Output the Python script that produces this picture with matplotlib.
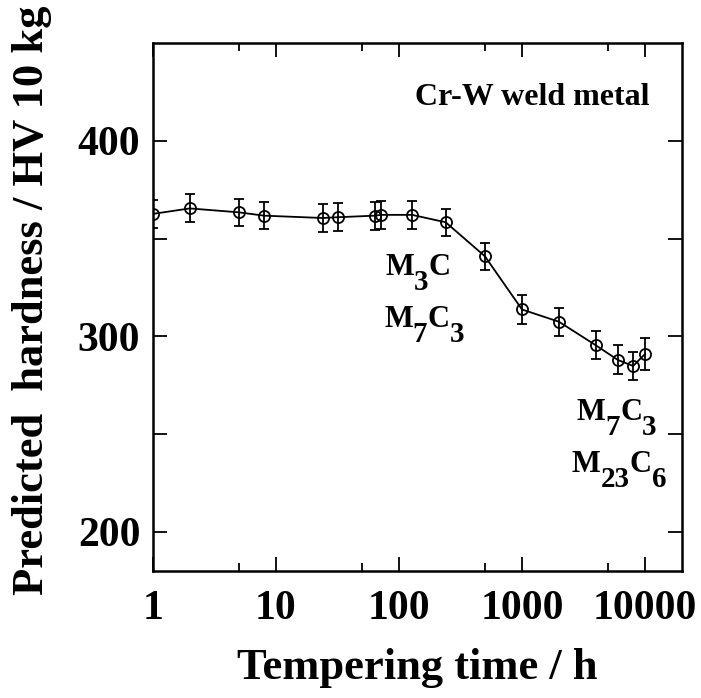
import matplotlib.pyplot as plt
from matplotlib.ticker import FixedLocator, NullFormatter, FixedFormatter

# tempering time (h) and predicted hardness (HV 10 kg) with error bars
time_h = [1, 2, 5, 8, 24, 32, 64, 72, 128, 240, 500, 1000, 2000, 4000, 6000, 8000, 10000]
hardness = [362.7, 365.5, 363.5, 361.8, 360.6, 361.0, 361.8, 362.2, 362.2, 358.4,
            341.0, 313.8, 307.5, 295.4, 288.0, 284.9, 291.0]
err = [7.0, 7.2, 6.8, 7.0, 7.2, 7.2, 7.2, 7.2, 7.0, 6.8, 7.0, 7.4, 7.2, 7.2, 7.4, 7.2, 8.2]

x_major = [1, 10, 100, 1000, 10000]
x_minor = [5, 50, 500, 5000]
y_major = [200, 250, 300, 350, 400]
y_labels = ["200", "", "300", "", "400"]

plt.rcParams['font.family'] = ['Liberation Serif', 'DejaVu Serif']
plt.rcParams['font.weight'] = 'bold'

fig = plt.figure(figsize=(7.01, 6.98), dpi=100)
ax = fig.add_axes([0.218, 0.182, 0.755, 0.756])

ax.errorbar(time_h, hardness, yerr=err, color='black', lw=1.3, marker='o',
            markersize=8, markerfacecolor='none', markeredgewidth=1.3,
            capsize=3.8, capthick=1.3, elinewidth=1.3)

ax.set_xscale('log')
ax.set_xlim(1, 20000)
ax.set_ylim(180, 450)

ax.xaxis.set_major_locator(FixedLocator(x_major))
ax.xaxis.set_major_formatter(FixedFormatter([str(v) for v in x_major]))
ax.xaxis.set_minor_locator(FixedLocator(x_minor))
ax.xaxis.set_minor_formatter(NullFormatter())
ax.yaxis.set_major_locator(FixedLocator(y_major))
ax.yaxis.set_major_formatter(FixedFormatter(y_labels))

ax.tick_params(which='both', direction='in', top=True, right=True, width=1.3)
ax.tick_params(which='major', length=10, labelsize=30)
ax.tick_params(which='minor', length=6)
ax.tick_params(axis='x', which='major', pad=14)
ax.tick_params(axis='y', which='major', pad=9)
for s in ax.spines.values():
    s.set_linewidth(1.8)

ax.set_xlabel('Tempering time / h', fontsize=32, fontweight='bold', labelpad=14)
ax.set_ylabel('Predicted  hardness / HV 10 kg', fontsize=32, fontweight='bold')
ax.yaxis.set_label_coords(-0.19, 0.513)

ax.annotate('Cr-W weld metal', xy=(0.4955, 0.8826), xycoords='axes fraction',
            ha='left', va='baseline', fontsize=23, fontweight='bold')

renderer = fig.canvas.get_renderer()


def chem_label(x, y, parts, size=22):
    # parts: (text, subscript?) pieces laid out left to right
    dx = 0.0
    for s, sub in parts:
        t = ax.annotate(s, xy=(x, y), xycoords='axes fraction',
                        xytext=(dx, -10.8 if sub else 0), textcoords='offset points',
                        ha='left', va='baseline', fontweight='bold',
                        fontsize=size * 0.95 if sub else size)
        dx += t.get_window_extent(renderer).width * 72 / fig.dpi


chem_label(0.4387, 0.5606, [('M', False), ('3', True), ('C', False)])
chem_label(0.437, 0.4627, [('M', False), ('7', True), ('C', False), ('3', True)])
chem_label(0.801, 0.286, [('M', False), ('7', True), ('C', False), ('3', True)])
chem_label(0.7916, 0.188, [('M', False), ('23', True), ('C', False), ('6', True)])

fig.savefig('out.png', dpi=100)
